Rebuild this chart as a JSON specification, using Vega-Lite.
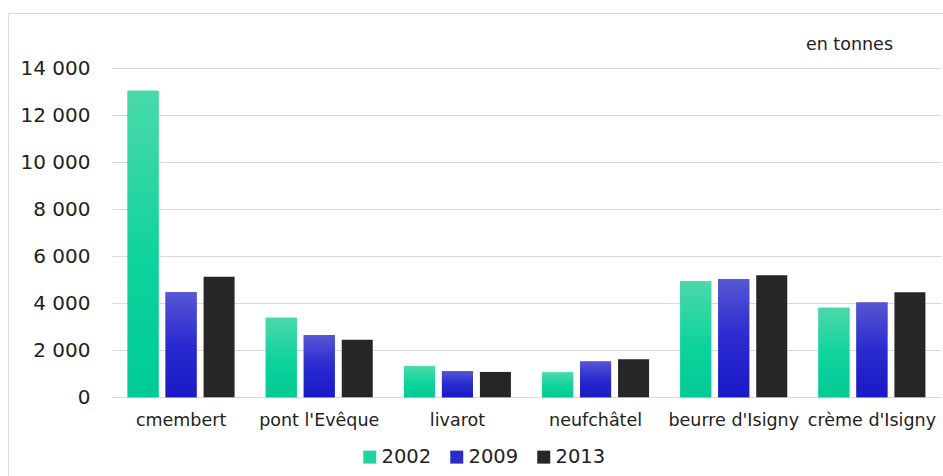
{
  "$schema": "https://vega.github.io/schema/vega-lite/v6.json",
  "width": 945,
  "height": 473,
  "autosize": {"type": "none"},
  "padding": {"left": 8, "top": 13, "right": -10, "bottom": -10},
  "background": "white",
  "title": {
    "text": "en tonnes",
    "orient": "top",
    "anchor": "end",
    "frame": "group",
    "offset": -40,
    "dx": -60,
    "font": "DejaVu Sans",
    "fontSize": 17.5,
    "fontWeight": "normal",
    "color": "#222222"
  },
  "data": {
    "values": [
      {"fromage": "cmembert", "annee": "2002", "tonnes": 13050},
      {"fromage": "cmembert", "annee": "2009", "tonnes": 4470},
      {"fromage": "cmembert", "annee": "2013", "tonnes": 5130},
      {"fromage": "pont l'Evêque", "annee": "2002", "tonnes": 3390},
      {"fromage": "pont l'Evêque", "annee": "2009", "tonnes": 2650},
      {"fromage": "pont l'Evêque", "annee": "2013", "tonnes": 2450},
      {"fromage": "livarot", "annee": "2002", "tonnes": 1320},
      {"fromage": "livarot", "annee": "2009", "tonnes": 1120},
      {"fromage": "livarot", "annee": "2013", "tonnes": 1080},
      {"fromage": "neufchâtel", "annee": "2002", "tonnes": 1060},
      {"fromage": "neufchâtel", "annee": "2009", "tonnes": 1520},
      {"fromage": "neufchâtel", "annee": "2013", "tonnes": 1620},
      {"fromage": "beurre d'Isigny", "annee": "2002", "tonnes": 4940},
      {"fromage": "beurre d'Isigny", "annee": "2009", "tonnes": 5020},
      {"fromage": "beurre d'Isigny", "annee": "2013", "tonnes": 5190},
      {"fromage": "crème d'Isigny", "annee": "2002", "tonnes": 3810},
      {"fromage": "crème d'Isigny", "annee": "2009", "tonnes": 4030},
      {"fromage": "crème d'Isigny", "annee": "2013", "tonnes": 4470}
    ]
  },
  "encoding": {
    "x": {
      "field": "fromage",
      "type": "nominal",
      "sort": null,
      "scale": {"range": [104, 933], "paddingInner": 0.2256, "paddingOuter": 0.1128},
      "axis": {
        "title": null,
        "orient": "bottom",
        "offset": -88.7,
        "domain": false,
        "ticks": false,
        "tickSize": 0,
        "labelPadding": 14,
        "labelAngle": 0,
        "labelFont": "DejaVu Sans",
        "labelFontSize": 17.5,
        "labelColor": "#222222"
      }
    },
    "xOffset": {
      "field": "annee",
      "type": "nominal",
      "scale": {"domain": ["2002", "2009", "2013"], "paddingInner": 0.184, "paddingOuter": 0}
    },
    "y": {
      "field": "tonnes",
      "type": "quantitative",
      "scale": {"domain": [0, 14000], "range": [384.3, 55.3], "nice": false, "zero": true},
      "axis": {
        "title": null,
        "orient": "left",
        "offset": -104,
        "values": [0, 2000, 4000, 6000, 8000, 10000, 12000, 14000],
        "labelExpr": "replace(format(datum.value, ','), ',', ' ')",
        "domain": false,
        "ticks": false,
        "tickSize": 0,
        "labelPadding": 22,
        "grid": true,
        "gridColor": "#d9d9d9",
        "gridWidth": 1,
        "labelFont": "DejaVu Sans",
        "labelFontSize": 20,
        "labelColor": "#222222"
      }
    }
  },
  "layer": [
    {
      "mark": {"type": "bar"},
      "encoding": {
        "color": {
          "field": "annee",
          "type": "nominal",
          "scale": {
            "domain": ["2002", "2009", "2013"],
            "range": ["#1ed4a0", "#2c2ccc", "#262626"]
          },
          "legend": {
            "title": null,
            "orient": "none",
            "legendX": 352,
            "legendY": 434,
            "direction": "horizontal",
            "symbolType": "square",
            "symbolSize": 169,
            "symbolStrokeWidth": 0,
            "symbolOpacity": 1,
            "labelFont": "DejaVu Sans",
            "labelFontSize": 19.5,
            "labelColor": "#222222",
            "labelOffset": 2,
            "columnPadding": 15
          }
        }
      }
    },
    {
      "transform": [{"filter": "datum.annee === '2002'"}],
      "mark": {
        "type": "bar",
        "fill": {
          "gradient": "linear", "x1": 0, "y1": 0, "x2": 0, "y2": 1,
          "stops": [
            {"offset": 0, "color": "#4bd9a9"},
            {"offset": 0.55, "color": "#0ed39c"},
            {"offset": 1, "color": "#00ca95"}
          ]
        }
      }
    },
    {
      "transform": [{"filter": "datum.annee === '2009'"}],
      "mark": {
        "type": "bar",
        "fill": {
          "gradient": "linear", "x1": 0, "y1": 0, "x2": 0, "y2": 1,
          "stops": [
            {"offset": 0, "color": "#5656d4"},
            {"offset": 0.5, "color": "#2a2ad0"},
            {"offset": 1, "color": "#1a1ac6"}
          ]
        }
      }
    }
  ],
  "config": {
    "view": {"stroke": "#d9d9d9", "strokeWidth": 1},
    "font": "DejaVu Sans"
  }
}
